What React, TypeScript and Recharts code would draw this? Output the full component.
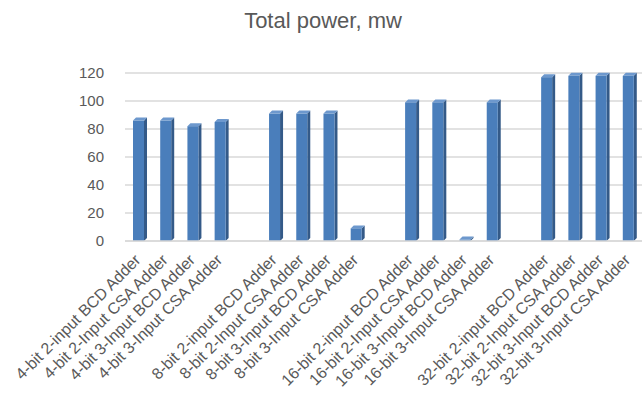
import { BarChart, Bar, XAxis, YAxis, CartesianGrid } from 'recharts';

const groups = ['4-bit', '8-bit', '16-bit', '32-bit'];
const variants = ['2-input BCD Adder', '2-Input CSA Adder', '3-Input BCD Adder', '3-Input CSA Adder'];
const power4 = [86, 86, 82, 85];
const power8 = [91, 91, 91, 9];
const power16 = [99, 99, 1, 99];
const power32 = [117, 118, 118, 118];
const yTicks = [0, 20, 40, 60, 80, 100, 120];

const groupValues = [power4, power8, power16, power32];

// Excel leaves an empty slot between the groups
const data: { name: string; power: number | null }[] = [];
groups.forEach((g, gi) => {
  if (gi > 0) data.push({ name: 'gap' + gi, power: null });
  variants.forEach((v, vi) => {
    data.push({ name: `${g} ${v}`, power: groupValues[gi][vi] });
  });
});

const FONT = '"Liberation Sans", Arial, sans-serif';
const TEXT = '#595959';

const Bar3D = (props: any) => {
  const { x, y, width, height } = props;
  if (height == null || width == null || props.value == null) return null;
  const d = 3;
  const h = Math.max(height, 0);
  return (
    <g>
      <polygon
        points={`${x + width},${y} ${x + width + d},${y - d} ${x + width + d},${y + h - d} ${x + width},${y + h}`}
        fill="#345a88"
      />
      <polygon
        points={`${x},${y} ${x + d},${y - d} ${x + width + d},${y - d} ${x + width},${y}`}
        fill="#6d98cd"
      />
      <rect x={x} y={y} width={width} height={h} fill="#4a7ebb" />
    </g>
  );
};

const XTick = (props: any) => {
  const { x, y, payload } = props;
  if (String(payload.value).startsWith('gap')) return null;
  const tx = x + 3;
  const ty = y + 12;
  return (
    <text
      x={tx}
      y={ty}
      transform={`rotate(-45 ${tx} ${ty})`}
      textAnchor="end"
      fontSize={16}
      fontFamily={FONT}
      fill={TEXT}
    >
      {payload.value}
    </text>
  );
};

export default function App() {
  return (
    <div style={{ position: 'absolute', left: 0, top: 0, width: 643, height: 394, background: '#fff' }}>
      <svg width={643} height={40} style={{ position: 'absolute', left: 0, top: 0 }}>
        <text x={323} y={28} textAnchor="middle" fontSize={22} fontFamily={FONT} fill={TEXT}>
          Total power, mw
        </text>
      </svg>
      <BarChart
        width={643}
        height={394}
        data={data}
        margin={{ top: 73, right: 1, bottom: 0, left: 0 }}
        barCategoryGap={0}
      >
        <CartesianGrid vertical={false} stroke="#d9d9d9" strokeWidth={1.5} />
        <XAxis
          dataKey="name"
          interval={0}
          height={153}
          tick={<XTick />}
          tickLine={false}
          axisLine={{ stroke: '#d9d9d9', strokeWidth: 1.5 }}
        />
        <YAxis
          domain={[0, 120]}
          ticks={yTicks}
          width={125}
          tickSize={0}
          tickMargin={21}
          tickLine={false}
          axisLine={false}
          tick={{ fontSize: 15, fontFamily: FONT, fill: TEXT }}
        />
        <Bar dataKey="power" barSize={11} shape={<Bar3D />} isAnimationActive={false} />
      </BarChart>
    </div>
  );
}
